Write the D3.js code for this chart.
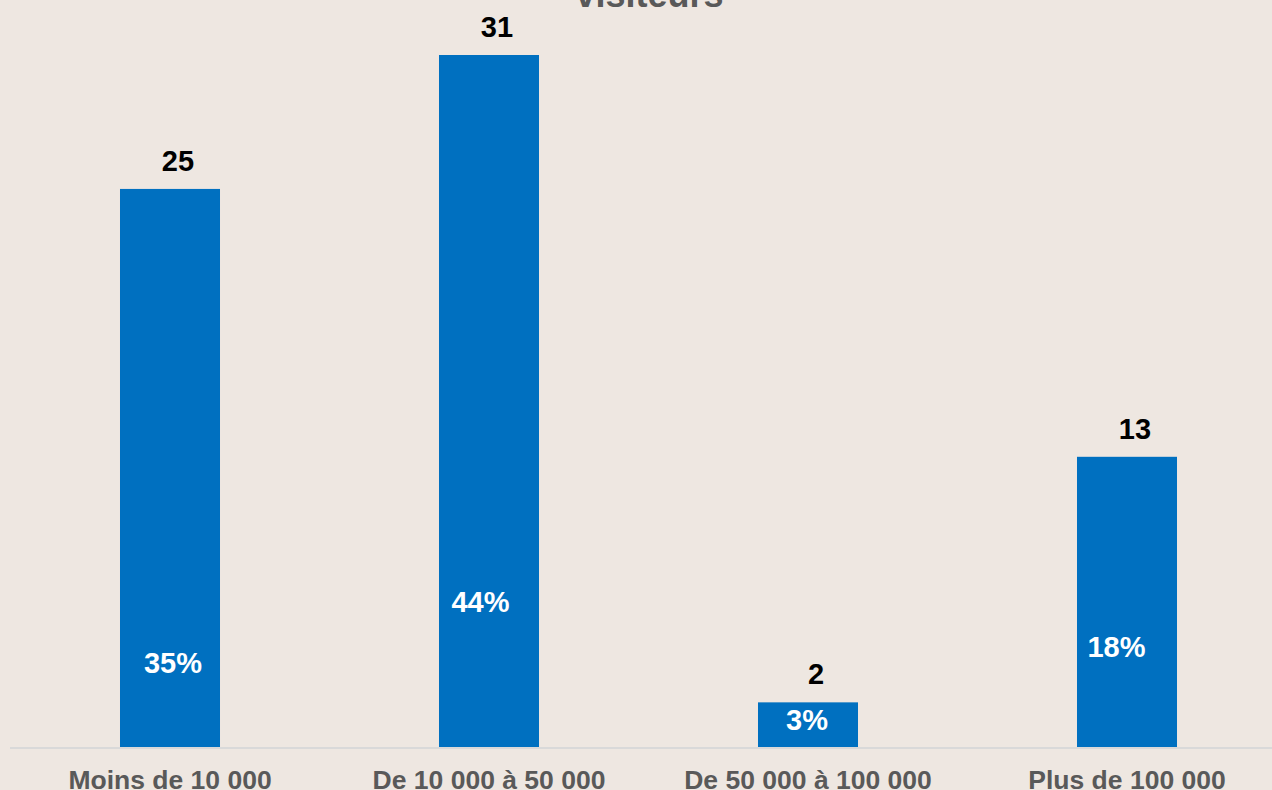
<!DOCTYPE html>
<html>
<head>
<meta charset="utf-8">
<script src="https://cdn.jsdelivr.net/npm/d3@7"></script>
<style>
  html, body { margin: 0; padding: 0; background: #EEE7E1; overflow: hidden; }
  svg { display: block; }
  text { font-family: "Liberation Sans", Arial, sans-serif; font-weight: bold; }
</style>
</head>
<body>
<svg id="chart" width="1272" height="790"></svg>
<script>
// ---- data ----
const categories = ["Moins de 10 000", "De 10 000 à 50 000", "De 50 000 à 100 000", "Plus de 100 000"];
const counts = [25, 31, 2, 13];
const percents = ["35%", "44%", "3%", "18%"];
const titleText = "visiteurs";

// ---- layout (not data) ----
const pctLabelLevel = [3.3, 6.05, 0.76, 4.03]; // where the % labels sit, in value units
const pctLabelDx = [3, -8.5, -1, -10.5];
const valueLabelDx = 8;

const W = 1272, H = 790;
const svg = d3.select("#chart");

svg.append("rect").attr("width", W).attr("height", H).attr("fill", "#EEE7E1");

const x = d3.scaleBand()
  .domain(categories)
  .range([10.5, 1286.5])
  .paddingInner(0.6865)
  .paddingOuter(0.6865 / 2);

const y = d3.scaleLinear().domain([0, 31]).range([747, 55]);

// title (cut off at top)
svg.append("text")
  .attr("x", 649.5).attr("y", 7)
  .attr("text-anchor", "middle")
  .attr("font-size", 36)
  .attr("fill", "#595959")
  .text(titleText);

const data = categories.map((c, i) => ({ c, v: counts[i], p: percents[i], lvl: pctLabelLevel[i], dx: pctLabelDx[i] }));

// bars
svg.append("g").selectAll("rect").data(data).join("rect")
  .attr("x", d => x(d.c))
  .attr("y", d => y(d.v))
  .attr("width", x.bandwidth())
  .attr("height", d => y(0) - y(d.v))
  .attr("fill", "#0070C0");

// axis line
svg.append("line")
  .attr("x1", 10).attr("x2", W)
  .attr("y1", 748).attr("y2", 748)
  .attr("stroke", "#D9D9D9").attr("stroke-width", 2);

// x axis labels
const xAxis = d3.axisBottom(x).tickSize(0).tickPadding(0);
const gx = svg.append("g").attr("transform", "translate(0,748)").call(xAxis);
gx.select(".domain").remove();
gx.selectAll("text")
  .attr("y", 41)
  .attr("dy", 0)
  .attr("font-size", 26.5)
  .attr("font-family", "Liberation Sans, Arial, sans-serif")
  .attr("font-weight", "bold")
  .attr("fill", "#595959");

// value labels
svg.append("g").selectAll("text").data(data).join("text")
  .attr("x", d => x(d.c) + x.bandwidth() / 2 + valueLabelDx)
  .attr("y", d => y(d.v) - 18)
  .attr("text-anchor", "middle")
  .attr("font-size", 29)
  .attr("fill", "#000000")
  .text(d => d.v);

// percentage labels
svg.append("g").selectAll("text").data(data).join("text")
  .attr("x", d => x(d.c) + x.bandwidth() / 2 + d.dx)
  .attr("y", d => y(d.lvl))
  .attr("text-anchor", "middle")
  .attr("font-size", 29)
  .attr("fill", "#FFFFFF")
  .text(d => d.p);
</script>
</body>
</html>
